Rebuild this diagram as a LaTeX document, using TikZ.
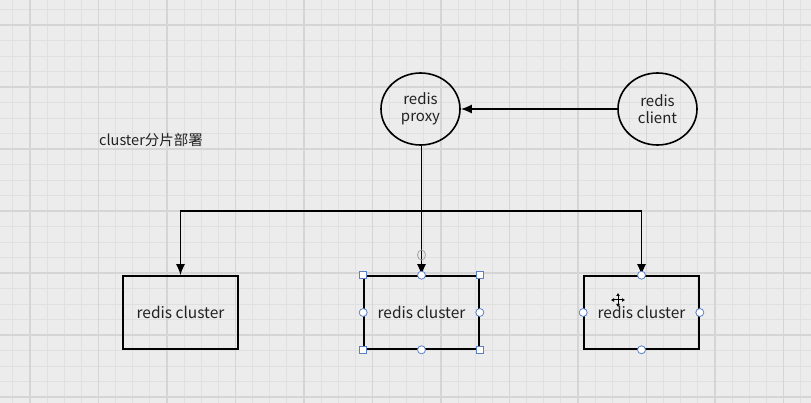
\documentclass[tikz,border=0pt]{standalone}
\usepackage{fontspec}
\setmainfont{Noto Sans CJK SC}
\usetikzlibrary{shapes.geometric,arrows.meta}
\definecolor{bg}{HTML}{ECECEC}
\definecolor{gminor}{HTML}{E0E0E0}
\definecolor{gmajor}{HTML}{D5D5D5}
\definecolor{handle}{HTML}{5B7FC7}
\definecolor{txt}{HTML}{222222}
\tikzset{
  minorline/.style={gminor, line width=0.8pt},
  majorline/.style={gmajor, line width=1.3pt},
  circ/.style={ellipse, draw=black, line width=1.6pt, minimum width=79pt, minimum height=72pt, inner sep=0pt, align=center, text=txt, font=\fontsize{15}{17}\selectfont},
  box/.style={rectangle, draw=black, line width=1.6pt, minimum width=115pt, minimum height=73pt, inner sep=0pt, text=txt, font=\fontsize{15.5}{17}\selectfont},
  arr/.style={draw=black, line width=1.6pt, -{Latex[length=11pt,width=9pt]}},
  hsq/.style={rectangle, draw=handle, fill=white, line width=0.8pt, minimum size=7pt, inner sep=0pt},
  hci/.style={ellipse, draw=handle, fill=white, line width=0.8pt, minimum width=8pt, minimum height=8pt, inner sep=0pt},
}
\begin{document}
\begin{tikzpicture}[x=1pt,y=-1pt]
\useasboundingbox (0,0) rectangle (811,403);
\fill[bg] (0,0) rectangle (811,403);
% grid
\foreach \i in {-2,...,46} {\draw[minorline] ({30+17.125*\i},0) -- ++(0,403);}
\foreach \j in {-2,...,25} {\draw[minorline] (0,{25+15.5*\j}) -- ++(811,0);}
\foreach \i in {0,...,11} {\draw[majorline] ({30+68.5*\i},0) -- ++(0,403);}
\foreach \j in {0,...,6} {\draw[majorline] (0,{25+62*\j}) -- ++(811,0);}

% nodes
\node[circ] (proxy) at (420.5,109) {redis\\proxy};
\node[circ] (client) at (657.5,109) {redis\\client};
\node[box] (c1) at (180.5,312.5) {redis cluster};
\node[box] (c2) at (421.5,312.5) {redis cluster};
\node[box] (c3) at (641.5,312.5) {redis cluster};
\node[anchor=west, text=txt, font=\fontsize{14.5}{16}\selectfont, inner sep=0pt] (title) at (99,140) {cluster分片部署};

% connectors
\coordinate (j) at (421.5,211);
\draw[arr] (client) -- (proxy);
\draw[arr] (proxy.south -| c2.north) -- (c2.north);
\draw[arr] (j) -| (c1.north);
\draw[arr] (j) -| (c3.north);

% selection handles (middle box)
\foreach \a in {north west,north east,south west,south east} {\node[hsq] at (c2.\a) {};}
\foreach \a in {north,south,east,west} {\node[hci] at (c2.\a) {};}
% connection points (right box)
\foreach \a in {north,south,east,west} {\node[hci] at (c3.\a) {};}
% small rotate marker above middle box
\draw[gray!70, line width=0.8pt] (421.5,255) ellipse (4pt and 5pt);
% move cursor
\begin{scope}[shift={(618,300)}]
\draw[black, line width=1pt, {Latex[length=3pt,width=4pt]}-{Latex[length=3pt,width=4pt]}] (-7,0) -- (7,0);
\draw[black, line width=1pt, {Latex[length=3pt,width=4pt]}-{Latex[length=3pt,width=4pt]}] (0,-7) -- (0,7);
\end{scope}
\end{tikzpicture}
\end{document}
